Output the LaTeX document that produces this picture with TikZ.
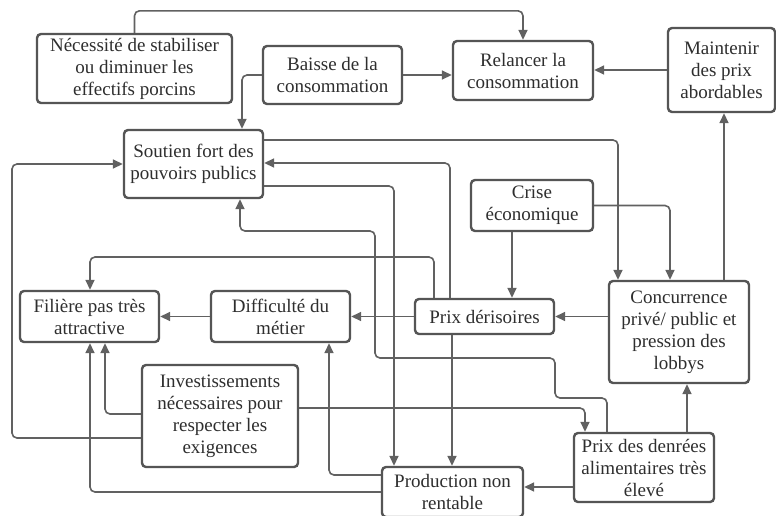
\documentclass[tikz,border=0pt]{standalone}
\usepackage{fontspec}
\setmainfont{Liberation Serif}
\usetikzlibrary{arrows.meta}
\definecolor{boxc}{HTML}{555555}
\definecolor{linec}{HTML}{616161}
\definecolor{txtc}{HTML}{2E2E2E}
\begin{document}
\begin{tikzpicture}[x=1pt,y=-1pt,
  box/.style={draw=boxc, line width=2.4pt, rounded corners=4pt, align=center, inner sep=0pt, text=txtc, font=\fontsize{19}{22}\selectfont},
  conn/.style={draw=linec, line width=1.6pt, rounded corners=5pt, -{Triangle[length=10pt,width=9pt]}}]
\useasboundingbox[fill=white] (0,0) rectangle (776,515);
% boxes
\node[box, minimum width=195pt, minimum height=69pt] (nec) at (134.5,68.5) {Nécessité de stabiliser\\ou diminuer les\\effectifs porcins};
\node[box, minimum width=139pt, minimum height=58pt] (bai) at (332.5,75) {Baisse de la\\consommation};
\node[box, minimum width=140pt, minimum height=59pt] (rel) at (523,70.5) {Relancer la\\consommation};
\node[box, minimum width=107pt, minimum height=84pt] (mai) at (721.5,70) {Maintenir\\des prix\\abordables};
\node[box, minimum width=139pt, minimum height=68pt] (sou) at (193.5,164) {Soutien fort des\\pouvoirs publics};
\node[box, minimum width=122pt, minimum height=51pt] (cri) at (532,205.5) {Crise\\économique};
\node[box, minimum width=140pt, minimum height=102pt] (con) at (679,332) {Concurrence\\privé/ public et\\pression des\\lobbys};
\node[box, minimum width=139pt, minimum height=35pt] (pd) at (484.5,316.5) {Prix dérisoires};
\node[box, minimum width=139pt, minimum height=51pt] (fil) at (89.5,316.5) {Filière pas très\\attractive};
\node[box, minimum width=139pt, minimum height=51pt] (dif) at (280.5,316.5) {Difficulté du\\métier};
\node[box, minimum width=156pt, minimum height=102pt] (inv) at (220,416) {Investissements\\nécessaires pour\\respecter les\\exigences};
\node[box, minimum width=140pt, minimum height=69pt] (pden) at (644,467.5) {Prix des denrées\\alimentaires très\\élevé};
\node[box, minimum width=141pt, minimum height=50pt] (prod) at (452.5,492) {Production non\\rentable};
% connectors
\draw[conn] (nec.north) -- ++(0,-22) -| (rel.north);
\draw[conn] (bai.west) -| (sou.north -| 242,0);
\draw[conn] (bai.east) -- (bai.east -| rel.west);
\draw[conn] (mai.west) -- (mai.west -| rel.east);
\draw[conn] (con.north -| 724,0) -- (mai.south -| 724,0);
\draw[conn] (sou.east |- 0,140) -| (con.north -| 618,0);
\draw[conn] (pd.north -| 450,0) |- (sou.east |- 0,163);
\draw[conn] (pd.north -| 434,0) -- (434,257) -| (fil.north -| 90,0);
\draw[conn] (sou.east |- 0,186) -| (prod.north -| 394,0);
\draw[conn] (pd.south -| 452,0) -- (prod.north -| 452,0);
\draw[conn] (pden.north -| 607,0) |- (555,398) |- (375,358) |- (240,231) -- (sou.south -| 240,0);
\draw[conn] (con.west |- pd.east) -- (pd.east);
\draw[conn] (cri.south -| 512,0) -- (pd.north -| 512,0);
\draw[conn] (cri.east) -| (con.north -| 670,0);
\draw[conn] (pd.west) -- (dif.east);
\draw[conn] (dif.west) -- (fil.east);
\draw[conn] (inv.west |- 0,414) -| (fil.south -| 105,0);
\draw[conn] (inv.west |- 0,438) -| (12,164) -- (sou.west);
\draw[conn] (inv.east |- 0,408) -| (pden.north -| 585,0);
\draw[conn] (pden.west |- 0,487) -- (prod.east |- 0,487);
\draw[conn] (pden.north -| 687,0) -- (con.south -| 687,0);
\draw[conn] (prod.west |- 0,492) -| (fil.south -| 90,0);
\draw[conn] (prod.west |- 0,475) -| (dif.south -| 329,0);
\end{tikzpicture}
\end{document}
